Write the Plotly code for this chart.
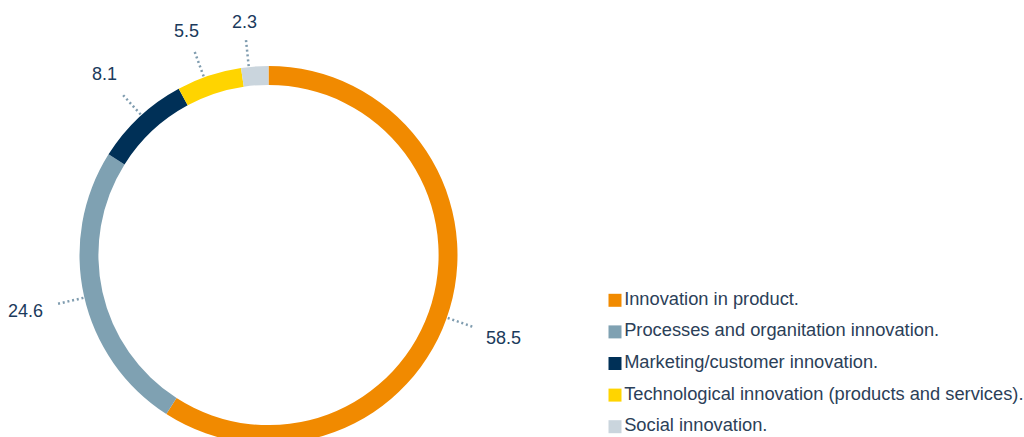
import numpy as np
import plotly.graph_objects as go

# Share of innovation types
categories = [
    "Innovation in product.",
    "Processes and organitation innovation.",
    "Marketing/customer innovation.",
    "Technological innovation (products and services).",
    "Social innovation.",
]
values = [58.5, 24.6, 8.1, 5.5, 2.3]
colors = ["#F18A00", "#7FA1B2", "#003057", "#FFD400", "#CAD5DD"]

W, H = 1024, 446
CX, CY, R_OUT = 268.5, 255.0, 189.0   # ring centre / outer radius in page pixels
HOLE = 0.90
LABEL_COLOR = "#1B3A5C"
LEGEND_COLOR = "#2B4058"
LEADER_COLOR = "#7F9CAF"
FONT = "Liberation Sans, Arial, sans-serif"

# small angular nudges (degrees) so outside labels don't crowd each other
LABEL_NUDGE = [3.0, -0.5, 0.8, -1.6, -1.8]

fig = go.Figure()

fig.add_trace(go.Pie(
    labels=categories,
    values=values,
    marker=dict(colors=colors, line=dict(width=0)),
    hole=HOLE,
    sort=False,
    direction="clockwise",
    rotation=0,
    textinfo="none",
    hoverinfo="label+value",
    showlegend=False,
    domain=dict(x=[(CX - R_OUT) / W, (CX + R_OUT) / W],
                y=[(H - (CY + R_OUT)) / H, (H - (CY - R_OUT)) / H]),
))

# Leader lines and value labels at the middle of each slice
vals = np.array(values)
cum = np.cumsum(vals)
mid_frac = (cum - vals / 2) / vals.sum()
theta = mid_frac * 2 * np.pi + np.radians(LABEL_NUDGE)  # clockwise from 12 o'clock

for v, t in zip(values, theta):
    s, c = np.sin(t), np.cos(t)
    r0, r1 = R_OUT + 1, R_OUT + 28
    fig.add_trace(go.Scatter(
        x=[CX + r0 * s, CX + r1 * s], y=[CY - r0 * c, CY - r1 * c],
        mode="lines", line=dict(color=LEADER_COLOR, width=2.5, dash="2px,2.8px"),
        hoverinfo="skip", showlegend=False, xaxis="x", yaxis="y",
    ))
    rt = 233 + 17 * abs(s)
    fig.add_annotation(
        x=CX + rt * s, y=CY - rt * c, xref="x", yref="y",
        text=f"{v:.1f}", showarrow=False, xanchor="center", yanchor="middle",
        font=dict(family=FONT, size=18, color=LABEL_COLOR),
    )

# Legend: square swatches with category names
leg_x = 615.0
leg_y = [300.3 + 31.6 * i for i in range(len(categories))]
fig.add_trace(go.Scatter(
    x=[leg_x] * len(categories), y=leg_y,
    mode="markers+text",
    marker=dict(symbol="square", size=13, color=colors, line=dict(width=0)),
    text=categories, textposition="middle right",
    textfont=dict(family=FONT, size=18.3, color=LEGEND_COLOR),
    hoverinfo="skip", showlegend=False, xaxis="x", yaxis="y", cliponaxis=False,
))

fig.update_layout(
    width=W, height=H,
    margin=dict(l=0, r=0, t=0, b=0),
    paper_bgcolor="white", plot_bgcolor="rgba(0,0,0,0)",
    xaxis=dict(range=[0, W], visible=False, fixedrange=True, domain=[0, 1]),
    yaxis=dict(range=[H, 0], visible=False, fixedrange=True, domain=[0, 1]),
    font=dict(family=FONT),
)

fig.write_html("out.html")
